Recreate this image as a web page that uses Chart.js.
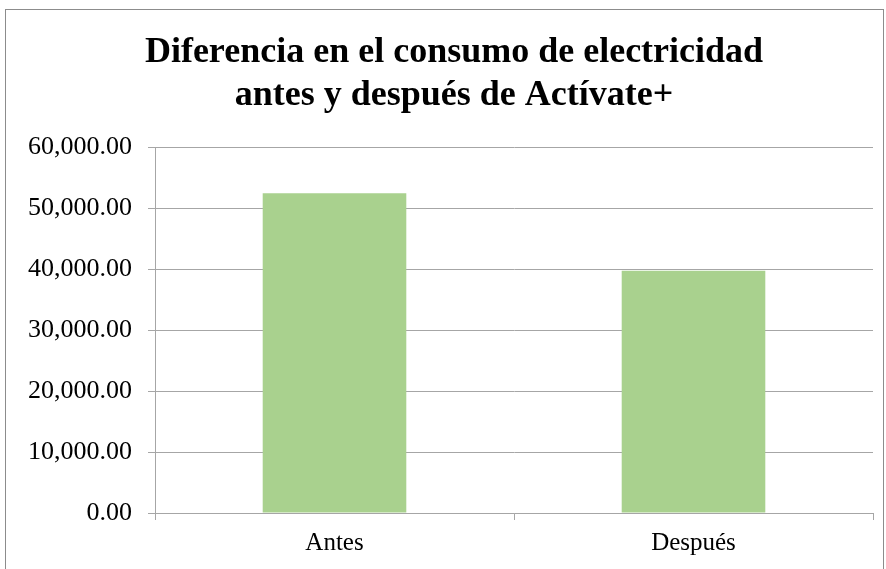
<!DOCTYPE html>
<html>
<head>
<meta charset="utf-8">
<script src="https://cdn.jsdelivr.net/npm/chart.js@4"></script>
<style>
  html, body { margin: 0; padding: 0; background: #fff; }
  #wrap { position: relative; width: 886px; height: 569px; }
</style>
</head>
<body>
<div id="wrap"><canvas id="myChart" width="886" height="569"></canvas></div>
<script>
// data
var categorias = ["Antes", "Después"];
var consumo = [52400, 39700];
var titulo = ["Diferencia en el consumo de electricidad", "antes y después de Actívate+"];
var yMin = 0, yMax = 60000, yStep = 10000;

var serif = "'Liberation Serif', 'Times New Roman', serif";

// white background + grey frame like the office chart
var marco = {
  id: 'marco',
  afterLayout: function(chart) {
    // the title sits a bit right of the canvas centre in the original
    var t = chart.titleBlock;
    if (t) { t.left += 12.5; t.right += 12.5; }
  },
  beforeDraw: function(chart) {
    var c = chart.ctx;
    c.save();
    c.fillStyle = '#fff';
    c.fillRect(0, 0, chart.width, chart.height);
    c.strokeStyle = '#8c8c8c';
    c.lineWidth = 1;
    c.strokeRect(5.5, 9.5, 878, 600);
    c.restore();
  }
};

var ctx = document.getElementById("myChart").getContext("2d");

window.chart = new Chart(ctx, {
  type: 'bar',
  data: {
    labels: categorias,
    datasets: [{
      label: "Consumo",
      backgroundColor: '#A9D18E',
      borderWidth: 0,
      data: consumo,
      categoryPercentage: 1,
      barPercentage: 0.4
    }]
  },
  plugins: [marco],
  options: {
    responsive: false,
    animation: false,
    devicePixelRatio: 1,
    layout: {
      padding: { left: 10, right: 13, top: 0, bottom: 3 }
    },
    plugins: {
      legend: { display: false },
      tooltip: { enabled: false },
      title: {
        display: true,
        text: titulo,
        color: '#000',
        font: { family: serif, size: 36, weight: 'bold', lineHeight: 1.2 },
        padding: { top: 31, bottom: 29.6 }
      }
    },
    scales: {
      x: {
        grid: {
          display: true,
          drawOnChartArea: false,
          drawTicks: true,
          tickLength: 7,
          color: '#a6a6a6',
          offset: true
        },
        border: { color: '#a6a6a6' },
        ticks: {
          color: '#000',
          padding: 8,
          font: { family: serif, size: 25 }
        }
      },
      y: {
        min: yMin,
        max: yMax,
        afterFit: function(s) { s.width = 145; },
        grid: {
          color: '#a6a6a6',
          tickLength: 7
        },
        border: { color: '#a6a6a6' },
        ticks: {
          stepSize: yStep,
          color: '#000',
          padding: 16,
          font: { family: serif, size: 26 },
          callback: function(v) {
            return v.toLocaleString('en-US', { minimumFractionDigits: 2, maximumFractionDigits: 2 });
          }
        }
      }
    }
  }
});
</script>
</body>
</html>
